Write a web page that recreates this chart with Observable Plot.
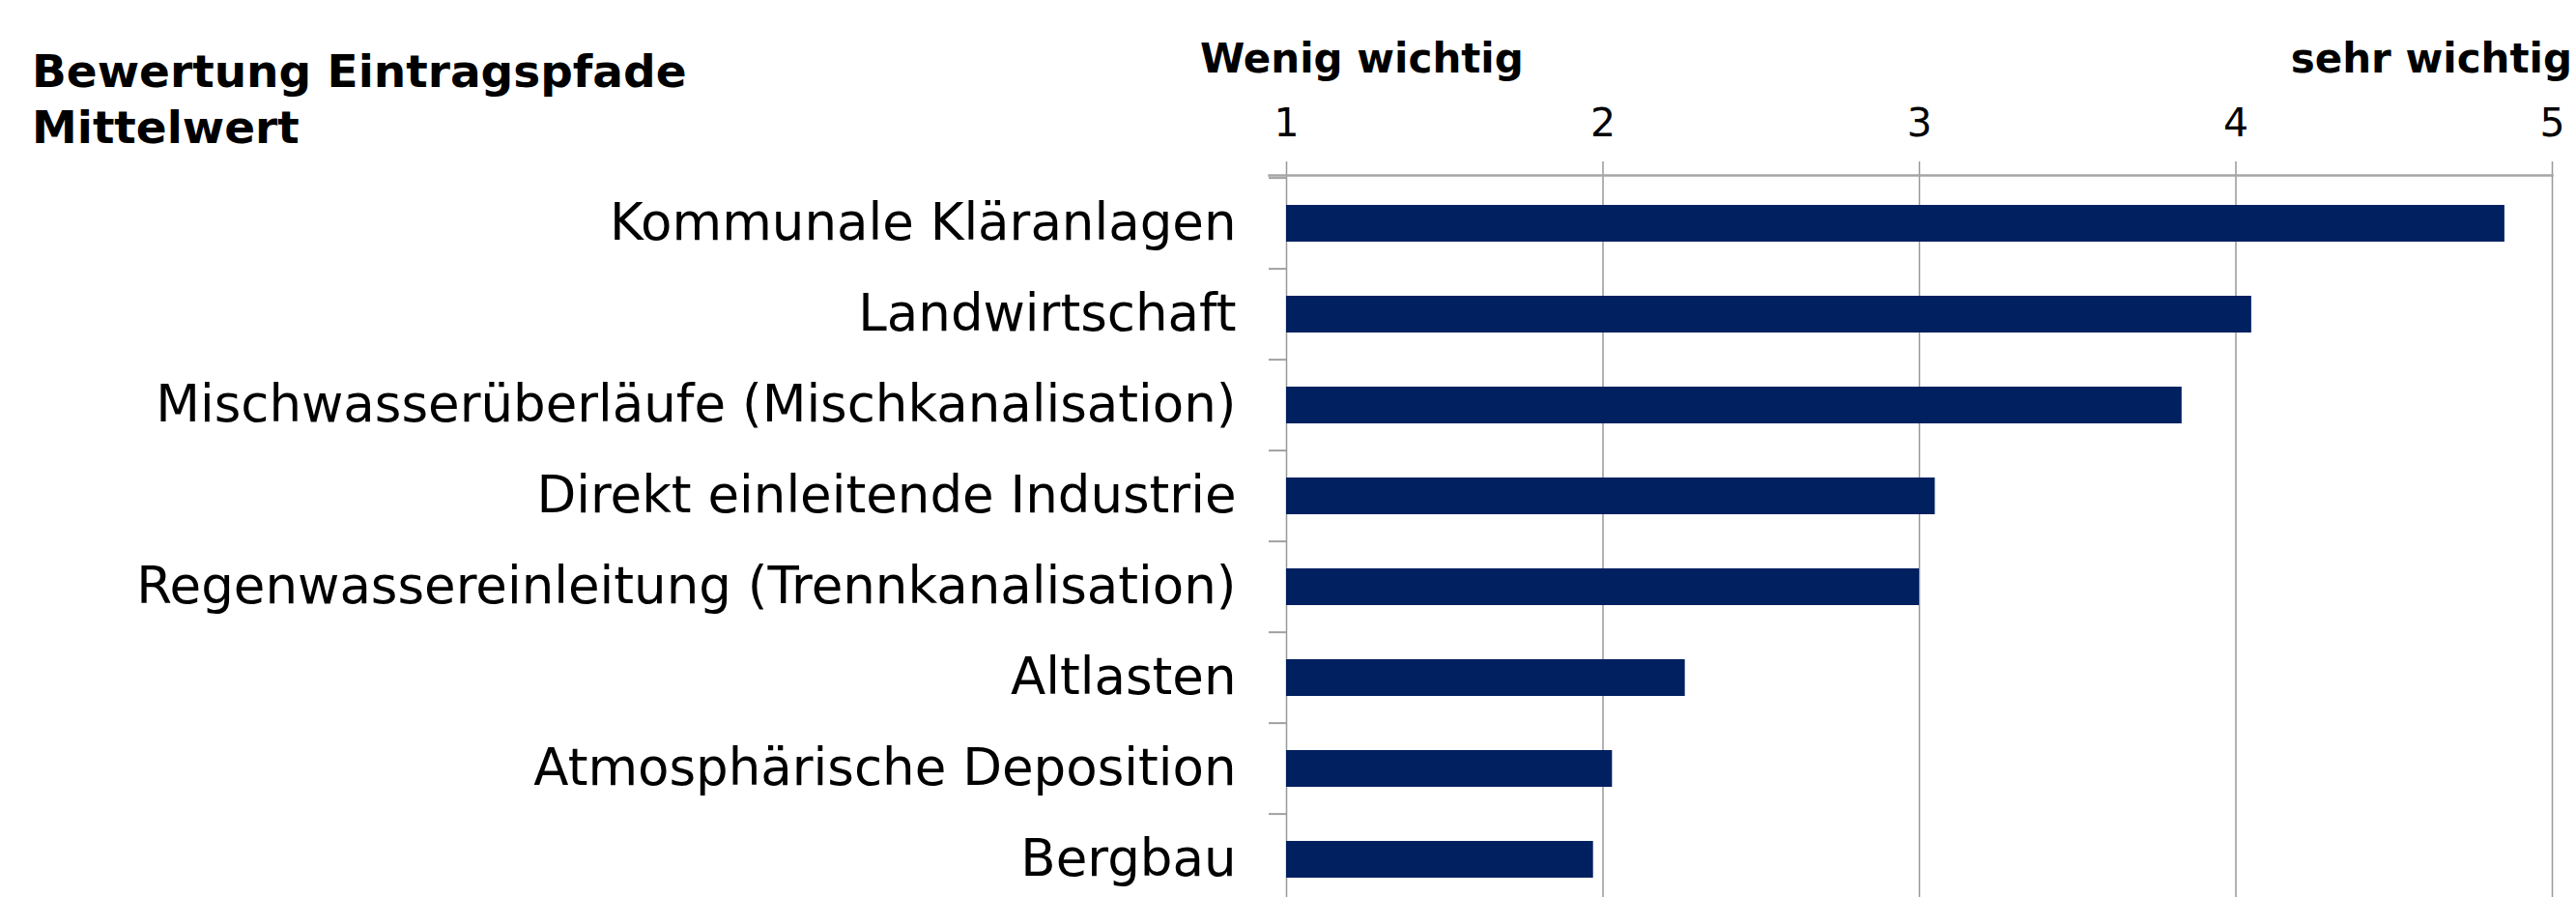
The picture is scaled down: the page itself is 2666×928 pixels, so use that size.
<!DOCTYPE html>
<html>
<head>
<meta charset="utf-8">
<script src="https://cdn.jsdelivr.net/npm/d3@7"></script>
<script src="https://cdn.jsdelivr.net/npm/@observablehq/plot@0.6"></script>
<style>
html, body { margin: 0; padding: 0; background: #fff; overflow: hidden; }
#wrap { position: relative; width: 2666px; height: 928px; overflow: hidden; background: #fff; }
.lbl { position: absolute; font-family: "DejaVu Sans", sans-serif; font-weight: bold; color: #000; white-space: nowrap; }
</style>
</head>
<body>
<div id="wrap">
  <div id="chart"></div>
  <div class="lbl" id="title" style="left:33px; top:45px; font-size:47px; line-height:58px;"></div>
  <div class="lbl" id="low" style="left:1242px; top:40px; font-size:42px; line-height:42px;"></div>
  <div class="lbl" id="high" style="right:4px; top:40px; font-size:42px; line-height:42px;"></div>
</div>
<script>
// ---- data ----
const categories = [
  "Kommunale Kläranlagen",
  "Landwirtschaft",
  "Mischwasserüberläufe (Mischkanalisation)",
  "Direkt einleitende Industrie",
  "Regenwassereinleitung (Trennkanalisation)",
  "Altlasten",
  "Atmosphärische Deposition",
  "Bergbau"
];
const values = [4.85, 4.05, 3.83, 3.05, 3.00, 2.26, 2.03, 1.97];
const xTicks = [1, 2, 3, 4, 5];
const titleLines = ["Bewertung Eintragspfade", "Mittelwert"];
const scaleLabels = ["Wenig wichtig", "sehr wichtig"];

// ---- text ----
document.getElementById("title").innerHTML = titleLines.join("<br>");
document.getElementById("low").textContent = scaleLabels[0];
document.getElementById("high").textContent = scaleLabels[1];

// ---- chart ----
const W = 2666, H = 939, mTop = 181, mLeft = 1331, mRight = 25;
const step = (H - mTop) / categories.length;
const data = categories.map((name, i) => ({name, value: values[i]}));

const chart = Plot.plot({
  width: W,
  height: H,
  marginTop: mTop,
  marginLeft: mLeft,
  marginRight: mRight,
  marginBottom: 0,
  style: {fontFamily: "DejaVu Sans", background: "white", overflow: "visible"},
  x: {domain: [xTicks[0], xTicks[xTicks.length - 1]], label: null},
  y: {domain: categories, paddingInner: 0.6, paddingOuter: 0.3, label: null},
  marks: [
    Plot.ruleX(xTicks, {stroke: "#999", strokeWidth: 1.5, strokeOpacity: 1, insetTop: -14}),
    Plot.frame({anchor: "top", stroke: "#a6a6a6", strokeWidth: 2.5, strokeOpacity: 1, insetLeft: -18}),
    Plot.axisY({tickSize: 18, tickFormat: () => "", label: null, dy: -step / 2, stroke: "#a0a0a0", strokeWidth: 2, strokeOpacity: 1}),
    Plot.barX(data, {x1: xTicks[0], x2: "value", y: "name", fill: "#002060"}),
    Plot.axisX(xTicks, {anchor: "top", label: null, tickSize: 0, tickPadding: 41, fontSize: 41, fill: "#000", tickFormat: d => String(d)}),
    Plot.axisY({anchor: "left", label: null, tickSize: 0, tickPadding: 52, fontSize: 53, fill: "#000"})
  ]
});
document.getElementById("chart").appendChild(chart);
</script>
</body>
</html>
